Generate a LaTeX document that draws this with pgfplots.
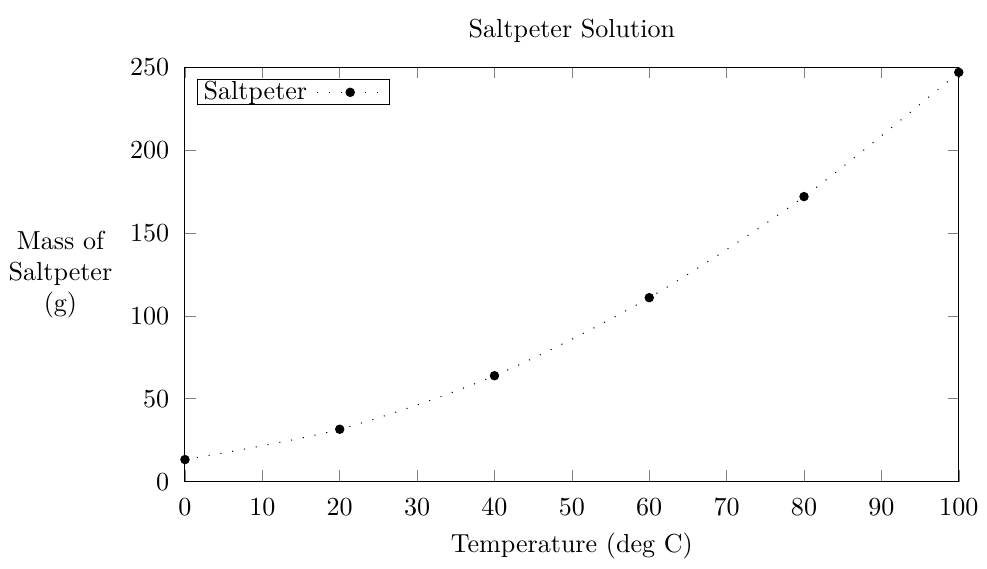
\documentclass[border=0pt]{standalone}
\usepackage{pgfplots}
\pgfplotsset{compat=1.18}
\begin{document}
\begin{tikzpicture}
  \begin{axis}[
    scale only axis,
    width=297pt, height=159pt,
    xmin=0, xmax=100, ymin=0, ymax=250,
    xtick distance=10, ytick distance=50,
    xticklabel style={yshift=-3pt},
    yticklabel style={xshift=-2.5pt},
    title={Saltpeter Solution},
    xlabel={Temperature (deg C)},
    ylabel={Mass of\\Saltpeter\\(g)},
    every axis y label/.style={at={(ticklabel cs:0.5)}, anchor=east, align=center},
    legend plot pos=right,
    legend image code/.code={\draw[mark repeat=2,mark phase=2,#1] plot coordinates {(0cm,0cm) (0.45cm,0cm) (0.9cm,0cm)};},
    legend style={at={(0.015,0.971)}, anchor=north west, draw=black,
      inner xsep=2pt, inner ysep=0pt, column sep=3pt,
      nodes={inner sep=0.5pt, text depth=0.15em}, legend cell align=left},
    clip=false,
  ]
    \addplot[black, thin, smooth, dash pattern=on 0.4pt off 4.2pt,
      mark=*, mark size=1.6pt, mark options={solid}] coordinates {
      (0,13.3) (20,31.6) (40,63.9) (60,111) (80,172) (100,247)
    };
    \addlegendentry{Saltpeter}
  \end{axis}
  \path (current bounding box.north) ++(0,4pt);
\end{tikzpicture}
\end{document}
